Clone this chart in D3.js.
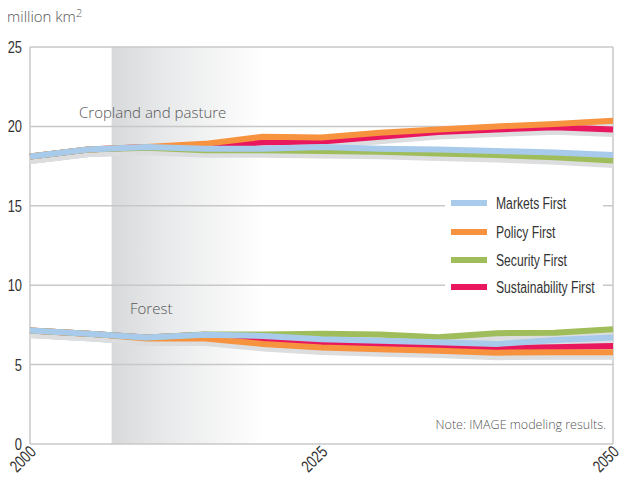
<!DOCTYPE html>
<html><head><meta charset="utf-8">
<script src="https://cdn.jsdelivr.net/npm/d3@7"></script>
<style>
body{margin:0;background:#fff;}
svg{display:block;}
.cond{font-family:"Liberation Sans","DejaVu Sans",sans-serif;}
.lt{font-family:"Open Sans","Liberation Sans",sans-serif;font-weight:300;}
</style>
</head><body>
<svg id="c" width="634" height="485"></svg>
<script>
const years = [2000,2005,2010,2015,2020,2025,2030,2035,2040,2045,2050];
const seriesNames = ["Markets First","Policy First","Security First","Sustainability First"];
const seriesColors = ["#a8cbec","#f7923f","#9fbd5b","#e9175d"];
// Cropland and pasture (million km2)
const cropMarkets = [18.1,18.55,18.7,18.6,18.6,18.7,18.6,18.55,18.45,18.35,18.2];
const cropPolicy  = [18.1,18.55,18.7,18.9,19.35,19.3,19.6,19.8,20.0,20.15,20.35];
const cropSecurity= [18.1,18.55,18.65,18.5,18.5,18.45,18.4,18.3,18.2,18.05,17.85];
const cropSustain = [18.1,18.55,18.7,18.7,19.0,19.05,19.35,19.65,19.8,19.95,19.8];
// Forest (million km2)
const forMarkets  = [7.15,6.95,6.7,6.88,6.8,6.6,6.5,6.4,6.3,6.55,6.7];
const forPolicy   = [7.15,6.95,6.65,6.65,6.3,6.07,5.97,5.88,5.75,5.78,5.78];
const forSecurity = [7.15,6.95,6.7,6.9,6.9,6.95,6.9,6.72,6.98,7.0,7.22];
const forSustain  = [7.15,6.95,6.7,6.88,6.6,6.35,6.28,6.17,6.03,6.1,6.17];
const yTicks = [0,5,10,15,20,25];
const xTicks = [2000,2025,2050];

const svg = d3.select("#c");
const x = d3.scaleLinear().domain([2000,2050]).range([30,613]);
const y = d3.scaleLinear().domain([0,25]).range([444,47]);
const SX = 0.76;

// gradient shade
const defs = svg.append("defs");
const g = defs.append("linearGradient").attr("id","shade").attr("x1","0").attr("x2","1").attr("y1","0").attr("y2","0");
g.append("stop").attr("offset","0").attr("stop-color","#d8d9db");
g.append("stop").attr("offset","0.35").attr("stop-color","#e8e9ea");
g.append("stop").attr("offset","1").attr("stop-color","#ffffff");
svg.append("rect").attr("x",x(2007)).attr("y",y(25)).attr("width",x(2020)-x(2007)).attr("height",y(0)-y(25)).attr("fill","url(#shade)");

// grid
svg.append("g").selectAll("line").data(yTicks).join("line")
  .attr("x1",30).attr("x2",613).attr("y1",d=>y(d)).attr("y2",d=>y(d))
  .attr("stroke","#c8c8c8").attr("stroke-width",1.5);
svg.append("line").attr("x1",30).attr("x2",30).attr("y1",y(25)).attr("y2",y(0)).attr("stroke","#c8c8c8").attr("stroke-width",1.5);
svg.append("line").attr("x1",613).attr("x2",613).attr("y1",y(25)).attr("y2",y(0)).attr("stroke","#c8c8c8").attr("stroke-width",1.5);

// y tick labels
svg.append("g").selectAll("text").data(yTicks).join("text")
  .attr("class","cond").attr("text-anchor","end")
  .attr("transform",d=>`translate(22,${y(d)+6}) scale(${SX},1)`)
  .attr("font-size",17).attr("fill","#333").text(d=>d);

// x tick labels
svg.append("g").selectAll("text").data(xTicks).join("text")
  .attr("class","cond").attr("text-anchor","end").attr("font-size",17).attr("fill","#333")
  .attr("transform",d=>`translate(${x(d)+7},${y(0)+9}) rotate(-45) scale(${SX},1)`).text(d=>d);

const line = d3.line().x((d,i)=>x(years[i])).y(d=>y(d));
const crop = [cropMarkets,cropPolicy,cropSecurity,cropSustain];
const forest = [forMarkets,forPolicy,forSecurity,forSustain];
const order = [3,1,2,0];

// shadows
[crop,forest].forEach(grp=>{
  grp.forEach(s=>{
    svg.append("path").attr("d",line(s)).attr("fill","none").attr("stroke","#dcdddf")
      .attr("stroke-width",7).attr("transform","translate(0,4)");
  });
});
[crop,forest].forEach(grp=>{
  order.forEach(i=>{
    svg.append("path").attr("d",line(grp[i])).attr("fill","none").attr("stroke",seriesColors[i])
      .attr("stroke-width",6).attr("stroke-linejoin","round");
  });
});

// titles
svg.append("text").attr("class","lt").attr("x",7).attr("y",22).attr("font-size",15).attr("fill","#555")
  .html('million km<tspan dy="-5" font-size="11">2</tspan>');
svg.append("text").attr("class","lt").attr("x",79).attr("y",118).attr("font-size",15).attr("fill","#555").text("Cropland and pasture");
svg.append("text").attr("class","lt").attr("x",130).attr("y",314).attr("font-size",15).attr("fill","#555").text("Forest");
svg.append("text").attr("class","lt").attr("x",606).attr("y",429).attr("text-anchor","end").attr("font-size",12.5).attr("fill","#555").text("Note: IMAGE modeling results.");

// legend
const lg = svg.append("g");
lg.append("rect").attr("x",445).attr("y",188).attr("width",158).attr("height",110).attr("fill","#fff");
const ly = [203,232,260,287];
seriesNames.forEach((n,i)=>{
  lg.append("line").attr("x1",451).attr("x2",487).attr("y1",ly[i]).attr("y2",ly[i]).attr("stroke",seriesColors[i]).attr("stroke-width",6);
  lg.append("text").attr("class","cond").attr("transform",`translate(496,${ly[i]+6}) scale(${SX},1)`)
    .attr("font-size",16).attr("fill","#333").text(n);
});
</script>
</body></html>
